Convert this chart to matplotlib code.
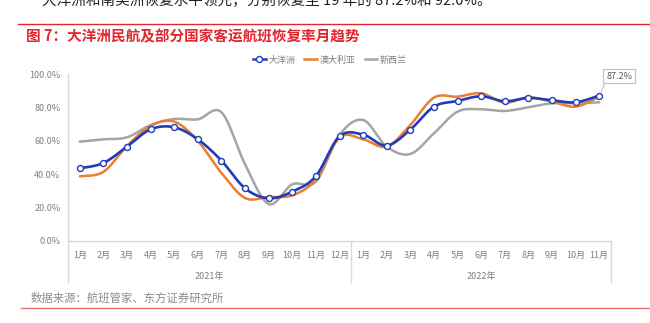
import numpy as np
import matplotlib
matplotlib.use("Agg")
import matplotlib.pyplot as plt
from matplotlib.lines import Line2D
import matplotlib.transforms as mtransforms

plt.rcParams['font.family'] = ['Noto Sans CJK SC', 'DejaVu Sans']

# monthly passenger-flight recovery rate (% of 2019 level)
months = ['1月', '2月', '3月', '4月', '5月', '6月', '7月', '8月', '9月', '10月', '11月', '12月',
          '1月', '2月', '3月', '4月', '5月', '6月', '7月', '8月', '9月', '10月', '11月']
years = ['2021年', '2022年']
oceania = [43.6, 46.8, 56.6, 67.0, 68.2, 61.0, 48.2, 31.6, 25.6, 29.6, 39.0, 62.8,
           63.8, 57.2, 66.8, 80.6, 84.0, 86.8, 83.8, 85.8, 84.4, 83.2, 87.2]
australia = [38.8, 41.5, 57.0, 69.0, 71.6, 60.0, 40.8, 25.8, 26.4, 27.4, 37.0, 62.0,
             61.0, 56.6, 69.6, 86.0, 86.6, 88.6, 83.0, 86.2, 83.6, 80.6, 86.6]
new_zealand = [59.6, 61.0, 62.2, 69.6, 73.2, 73.0, 77.2, 46.0, 22.2, 34.0, 35.6, 63.6,
               72.6, 56.6, 52.2, 64.6, 77.6, 79.0, 78.0, 80.2, 82.6, 82.6, 83.2]

BLUE = '#1F3DB8'
ORANGE = '#ED7D31'
GRAY = '#A5A5A5'
TXT = '#7F7F7F'
RED = '#E3262D'

W, H = 650, 323


def smooth(x, y, n=24):
    """Bezier smoothing of a polyline, the way office charts draw smoothed lines."""
    x = np.asarray(x, float)
    y = np.asarray(y, float)
    px = np.concatenate([[x[0]], x, [x[-1]]])
    py = np.concatenate([[y[0]], y, [y[-1]]])
    xs, ys = [], []
    t = np.linspace(0, 1, n)
    for i in range(len(x) - 1):
        p0 = np.array([px[i + 1], py[i + 1]])
        p3 = np.array([px[i + 2], py[i + 2]])
        c1 = p0 + (np.array([px[i + 2], py[i + 2]]) - np.array([px[i], py[i]])) / 6
        c2 = p3 - (np.array([px[i + 3], py[i + 3]]) - np.array([px[i + 1], py[i + 1]])) / 6
        b = ((1 - t) ** 3)[:, None] * p0 + (3 * (1 - t) ** 2 * t)[:, None] * c1 \
            + (3 * (1 - t) * t ** 2)[:, None] * c2 + (t ** 3)[:, None] * p3
        xs.append(b[:, 0])
        ys.append(b[:, 1])
    return np.concatenate(xs), np.concatenate(ys)


fig = plt.figure(figsize=(W / 100, H / 100), dpi=100)
fig.patch.set_facecolor('white')

# page header: tail of the body text, rule and figure caption
fig.text(42 / W, 1 - 1 / H, '大洋洲和南美洲恢复水平领先，分别恢复至 19 年的 87.2%和 92.0%。',
         fontsize=10.5, color='#222222', ha='left', va='center')
fig.add_artist(Line2D([18 / W, 1], [1 - 24 / H] * 2, color=RED, lw=1.0))
fig.text(26 / W, 1 - 36 / H, '图 7：大洋洲民航及部分国家客运航班恢复率月趋势',
         fontsize=10.5, color=RED, fontweight='bold', ha='left', va='center')

# plot area
x0, x1, y0, y1 = 68, 611, 241, 74.3
ax = fig.add_axes([x0 / W, 1 - y0 / H, (x1 - x0) / W, (y0 - y1) / H])
x = np.arange(len(months))
ax.set_xlim(-0.5, len(months) - 0.5)
ax.set_ylim(0, 100)
for s in ['top', 'right', 'left']:
    ax.spines[s].set_visible(False)
ax.spines['bottom'].set_color('#D9D9D9')
ax.spines['bottom'].set_linewidth(1.0)
ax.set_yticks(np.arange(0, 101, 20))
ax.set_yticklabels([f'{v:.1f}%' for v in np.arange(0, 101, 20)])
ax.tick_params(axis='y', length=0, pad=5.5, labelsize=6.5, labelcolor=TXT)
ax.set_xticks([])

for data, col, lw in [(new_zealand, GRAY, 1.8), (australia, ORANGE, 1.8), (oceania, BLUE, 1.9)]:
    sx, sy = smooth(x, data)
    ax.plot(sx, sy, color=col, lw=lw, solid_capstyle='round', zorder=3)
ax.plot(x, oceania, ls='none', marker='o', ms=4.3, mfc='white', mec=BLUE, mew=1.0, zorder=4)

# data label on the last point
ax.annotate(f'{oceania[-1]:.1f}%', xy=(x[-1], oceania[-1]), xytext=(5, 14),
            textcoords='offset points', fontsize=6.5, color='#595959', ha='left', va='center',
            bbox=dict(boxstyle='square,pad=0.3', fc='white', ec='#BFBFBF', lw=0.8),
            arrowprops=dict(arrowstyle='-', color='#BFBFBF', lw=0.8, relpos=(0, 0),
                            shrinkA=0, shrinkB=3))

# two-level category axis
trans = mtransforms.blended_transform_factory(ax.transData, fig.transFigure)
for i, m in enumerate(months):
    ax.text(i, 1 - 255 / H, m, transform=trans, fontsize=6.5, color=TXT, ha='center', va='center')
ax.text(5.5, 1 - 276 / H, years[0], transform=trans, fontsize=6.5, color=TXT, ha='center', va='center')
ax.text(17, 1 - 276 / H, years[1], transform=trans, fontsize=6.5, color=TXT, ha='center', va='center')
for xv, top in [(-0.5, 74), (11.5, 241), (22.5, 241)]:
    ax.add_artist(Line2D([xv, xv], [1 - top / H, 1 - 282 / H], transform=trans,
                         color='#D9D9D9', lw=1.0, clip_on=False))

# legend
handles = [Line2D([], [], color=BLUE, lw=1.8, marker='o', ms=4.3, mfc='white', mec=BLUE),
           Line2D([], [], color=ORANGE, lw=1.8),
           Line2D([], [], color=GRAY, lw=1.8)]
fig.legend(handles, ['大洋洲', '澳大利亚', '新西兰'], loc='center', bbox_to_anchor=(330 / W, 1 - 60 / H),
           ncol=3, frameon=False, fontsize=6.5, labelcolor=TXT, handlelength=1.4,
           handletextpad=0.3, columnspacing=1.0)

# source note and bottom rule
fig.text(31 / W, 1 - 298 / H, '数据来源：航班管家、东方证券研究所', fontsize=8.2, color='#8C8C8C',
         ha='left', va='center')
fig.add_artist(Line2D([21 / W, 1], [1 - 308 / H] * 2, color='#F07070', lw=1.0))

fig.savefig('out.png', dpi=100, facecolor='white')
